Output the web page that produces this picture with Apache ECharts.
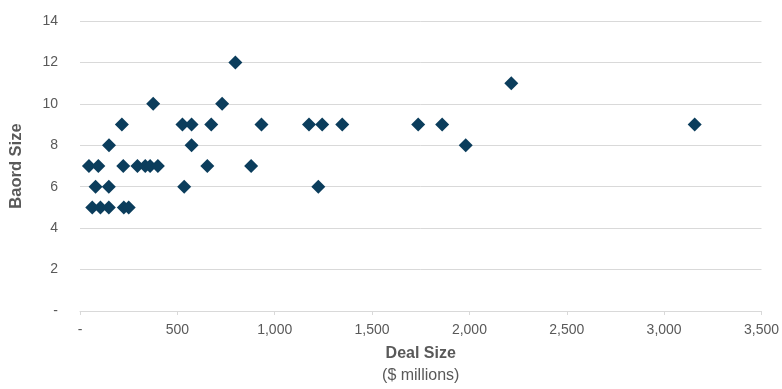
<!DOCTYPE html>
<html>
<head>
<meta charset="utf-8">
<script src="https://cdn.jsdelivr.net/npm/echarts@6/dist/echarts.min.js"></script>
<style>
  html, body { margin: 0; padding: 0; background: #ffffff; }
  #chart { width: 782px; height: 389px; }
</style>
</head>
<body>
<div id="chart"></div>
<script>
// Deal size ($ millions) and board size for each transaction
const dealSize = [
  798,
  2215,
  376, 730,
  215, 526, 573, 674, 932, 1176, 1244, 1347, 1737, 1860, 3157,
  149, 573, 1981,
  46, 94, 222, 295, 335, 360, 400, 654, 879,
  80, 148, 535, 1224,
  63, 105, 148, 225, 250
];
const boardSize = [
  12,
  11,
  10, 10,
  9, 9, 9, 9, 9, 9, 9, 9, 9, 9, 9,
  8, 8, 8,
  7, 7, 7, 7, 7, 7, 7, 7, 7,
  6, 6, 6, 6,
  5, 5, 5, 5, 5
];

const xTitle = 'Deal Size';
const xSubtitle = '($ millions)';
const yTitle = 'Baord Size';

const points = dealSize.map((d, i) => [d, boardSize[i]]);

const gray = '#595959';
const gridGray = '#d9d9d9';

const fmtNum = v => (v === 0 ? '-' : v.toLocaleString('en-US'));

const chart = echarts.init(document.getElementById('chart'), null, { renderer: 'canvas' });
chart.setOption({
  animation: false,
  textStyle: { fontFamily: 'Liberation Sans, Arial, sans-serif' },
  grid: { left: 80, right: 19, top: 21, bottom: 71, containLabel: false },
  xAxis: {
    type: 'value',
    min: 0,
    max: 3500,
    interval: 500,
    name: '{b|' + xTitle + '}\n{n|' + xSubtitle + '}',
    nameLocation: 'middle',
    nameGap: 32,
    nameTextStyle: {
      rich: {
        b: { fontSize: 16, fontWeight: 'bold', color: gray, lineHeight: 22, fontFamily: 'Liberation Sans' },
        n: { fontSize: 16, color: gray, lineHeight: 22, fontFamily: 'Liberation Sans' }
      }
    },
    axisLine: { show: true, lineStyle: { color: gridGray, width: 1 } },
    axisTick: { show: true, length: 4, lineStyle: { color: gridGray } },
    splitLine: { show: false },
    axisLabel: { color: gray, fontSize: 14, margin: 12, formatter: fmtNum }
  },
  yAxis: {
    type: 'value',
    min: 0,
    max: 14,
    interval: 2,
    name: yTitle,
    nameLocation: 'middle',
    nameGap: 55,
    nameTextStyle: { fontSize: 16.5, fontWeight: 'bold', color: gray },
    axisLine: { show: false },
    axisTick: { show: false },
    splitLine: { show: true, lineStyle: { color: gridGray, width: 1 } },
    axisLabel: { color: gray, fontSize: 14, margin: 22, formatter: fmtNum }
  },
  series: [{
    type: 'scatter',
    symbol: 'diamond',
    symbolSize: 14,
    data: points,
    itemStyle: { color: '#0b3d5c', opacity: 1 }
  }]
});
</script>
</body>
</html>
